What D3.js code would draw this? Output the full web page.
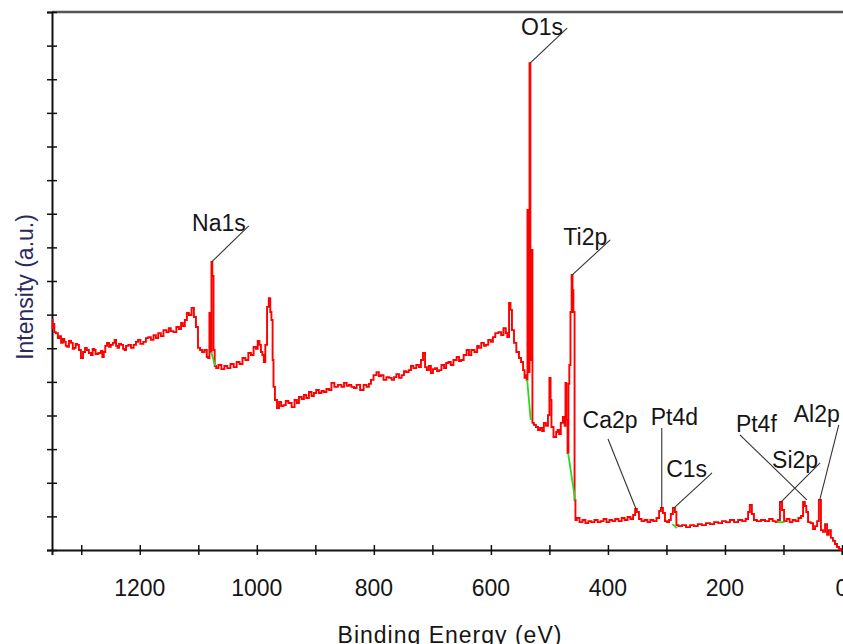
<!DOCTYPE html>
<html>
<head>
<meta charset="utf-8">
<script src="https://cdn.jsdelivr.net/npm/d3@7"></script>
<style>
  body { margin: 0; background: #fff; }
  svg text { font-family: Arial, "Liberation Sans", sans-serif; }
</style>
</head>
<body>
<svg id="chart"></svg>
<script>
const WIDTH = 843;
const HEIGHT = 644;

// survey spectrum, [binding energy (eV), intensity (a.u.)]
const spectrum = [
  [1350, 6.84], [1348, 6.60], [1347, 6.72], [1345, 6.48], [1342, 6.45], [1338, 6.30], [1336, 6.36],
  [1333, 6.16], [1330, 6.28], [1328, 6.19], [1325, 6.07], [1323, 6.04], [1319, 6.22], [1316, 6.16],
  [1313, 5.98], [1311, 6.01], [1308, 6.13], [1306, 6.10], [1302, 5.95], [1299, 5.71], [1295, 5.89],
  [1292, 6.01], [1289, 5.95], [1285, 5.86], [1282, 5.80], [1279, 5.98], [1277, 5.95], [1274, 5.83],
  [1268, 5.86], [1265, 5.92], [1263, 5.74], [1260, 5.89], [1258, 6.07], [1254, 6.16], [1251, 6.04],
  [1248, 6.10], [1244, 6.16], [1242, 6.25], [1239, 6.07], [1237, 6.01], [1234, 6.13], [1230, 6.10],
  [1227, 5.98], [1225, 5.95], [1222, 6.07], [1217, 6.10], [1213, 6.01], [1208, 6.10], [1205, 6.19],
  [1201, 6.25], [1197, 6.13], [1191, 6.19], [1188, 6.30], [1183, 6.33], [1179, 6.25], [1174, 6.39],
  [1171, 6.30], [1166, 6.45], [1162, 6.36], [1157, 6.54], [1152, 6.48], [1149, 6.60], [1145, 6.51],
  [1140, 6.48], [1135, 6.63], [1131, 6.57], [1128, 6.75], [1125, 6.66], [1121, 6.84], [1118, 7.05],
  [1114, 6.99], [1109, 7.20], [1106, 6.93], [1102, 6.63], [1099, 6.01], [1095, 5.95], [1092, 5.89],
  [1087, 5.95], [1084, 5.74], [1082, 5.71],
  // Na1s
  [1080, 7.05], [1078, 5.89], [1077, 8.57], [1075, 8.15], [1073, 5.95], [1071, 5.47],
  [1068, 5.41], [1063, 5.50], [1058, 5.38], [1053, 5.47], [1048, 5.41], [1042, 5.53], [1037, 5.44],
  [1032, 5.59], [1027, 5.53], [1022, 5.71], [1017, 5.65], [1012, 5.86], [1008, 5.80], [1003, 6.04],
  [1000, 5.98], [997, 6.22], [994, 6.10], [992, 5.89], [989, 5.80], [987, 5.59], [984, 6.10],
  [981, 7.23], [978, 7.49], [976, 7.08], [974, 6.84], [972, 5.65], [971, 4.85], [967, 4.46],
  [964, 4.22], [960, 4.40], [957, 4.28], [952, 4.31], [949, 4.43], [943, 4.37], [938, 4.25],
  [933, 4.46], [930, 4.37], [926, 4.55], [921, 4.49], [918, 4.61], [913, 4.52], [909, 4.70],
  [904, 4.58], [901, 4.67], [896, 4.76], [892, 4.67], [887, 4.73], [884, 4.70], [878, 4.79],
  [875, 4.76], [870, 4.97], [865, 4.85], [858, 4.91], [853, 4.85], [849, 4.97], [844, 4.88],
  [841, 4.91], [836, 4.85], [832, 4.82], [827, 4.91], [820, 4.76], [815, 4.91], [810, 4.85],
  [807, 4.94], [803, 5.06], [798, 5.20], [793, 5.29], [790, 5.17], [786, 5.20], [781, 5.06],
  [776, 5.14], [772, 5.12], [767, 5.06], [764, 5.14], [759, 5.23], [755, 5.12], [750, 5.20],
  [747, 5.32], [743, 5.29], [738, 5.35], [735, 5.47], [730, 5.41], [725, 5.50], [721, 5.44],
  [718, 5.65], [714, 5.86], [711, 5.44], [708, 5.35], [704, 5.47], [701, 5.26], [697, 5.38],
  [694, 5.41], [690, 5.32], [687, 5.35], [682, 5.50], [678, 5.41], [675, 5.56], [670, 5.59],
  [667, 5.50], [661, 5.65], [656, 5.74], [653, 5.62], [649, 5.65], [644, 5.80], [639, 5.95],
  [636, 5.80], [631, 5.95], [625, 5.89], [622, 6.07], [619, 6.01], [614, 6.16], [610, 6.07],
  [607, 6.10], [602, 6.25], [598, 6.19], [595, 6.33], [590, 6.45], [584, 6.48], [581, 6.39],
  [576, 6.60], [573, 6.45], [571, 6.33], [567, 7.35], [566, 7.14], [562, 6.54], [559, 6.16],
  [554, 5.89], [550, 5.71], [547, 5.59], [543, 5.35], [542, 5.12], [540, 5.20], [538, 5.06],
  // O1s
  [537, 10.11], [535, 5.29], [533, 14.48], [532, 5.65], [530, 8.92], [528, 3.78],
  [525, 3.72], [521, 3.66], [518, 3.57], [514, 3.63], [511, 3.54], [508, 3.78], [504, 3.69],
  [501, 4.01], [499, 5.12], [497, 4.46], [496, 3.66], [490, 3.36], [487, 3.51], [485, 3.57],
  [482, 3.45], [479, 3.78], [475, 3.96], [473, 3.69], [472, 4.97], [470, 3.87], [468, 2.88],
  // Ti2p
  [467, 4.94], [465, 5.50], [463, 7.08], [461, 8.18], [460, 7.73], [458, 7.08], [456, 1.49],
  [455, 0.89], [451, 0.95], [446, 0.83], [441, 0.89], [436, 0.80], [431, 0.86], [426, 0.83],
  [420, 0.89], [415, 0.83], [410, 0.86], [405, 0.92], [400, 0.83], [395, 0.89], [390, 0.86],
  [385, 0.92], [379, 0.86], [374, 0.95], [369, 0.89], [364, 0.98], [359, 0.92], [355, 1.04],
  [352, 1.22], [349, 1.13], [345, 0.92], [340, 0.86], [335, 0.89], [330, 0.83], [325, 0.89],
  [320, 0.86], [314, 0.95], [311, 1.16], [308, 1.25], [304, 1.10], [301, 0.86], [297, 0.83],
  [294, 0.89], [291, 1.07], [287, 1.25], [284, 1.13], [282, 0.74], [277, 0.71], [270, 0.74],
  [263, 0.68], [256, 0.74], [250, 0.71], [243, 0.77], [236, 0.74], [229, 0.80], [222, 0.77],
  [215, 0.83], [208, 0.80], [202, 0.86], [195, 0.83], [188, 0.89], [181, 0.83], [174, 0.89],
  [167, 0.86], [162, 0.92], [159, 1.13], [156, 1.34], [152, 1.07], [149, 0.89], [142, 0.86],
  [135, 0.89], [128, 0.86], [121, 0.92], [116, 0.86], [111, 0.83], [108, 0.89], [104, 1.43],
  [101, 1.19], [97, 0.86], [92, 0.92], [87, 0.83], [82, 0.89], [77, 0.86], [72, 0.95],
  [68, 1.01], [65, 1.43], [62, 1.31], [60, 1.13], [56, 0.83], [51, 0.80], [48, 0.62],
  [44, 0.71], [41, 0.86], [38, 1.49], [34, 0.59], [31, 0.54], [27, 0.77], [24, 0.45],
  [21, 0.59], [17, 0.36], [14, 0.27], [10, 0.18], [7, 0.09], [3, 0.03], [0, 0]
];

// short background segments drawn in green under the peaks
const backgrounds = [
  [[1078, 5.89], [1071, 5.47]],
  [[538, 5.06], [532, 3.87]],
  [[468, 2.88], [456, 1.49]],
  [[290, 0.77], [282, 0.65]],
  [[111, 0.83], [98, 0.83]]
];

const peakNames = ['Na1s', 'O1s', 'Ti2p', 'Ca2p', 'Pt4d', 'C1s', 'Pt4f', 'Si2p', 'Al2p'];
const peakEnergies = [1077, 533, 461, 352, 308, 287, 60, 104, 38];
const peakHeights = [8.57, 14.48, 8.18, 1.22, 1.25, 1.25, 1.49, 1.43, 1.49];

const xTickValues = [0, 100, 200, 300, 400, 500, 600, 700, 800, 900, 1000, 1100, 1200, 1300];
const xTickLabels = [0, 200, 400, 600, 800, 1000, 1200];

// leader line offset from the peak top and text placement
const labelLayout = {
  Na1s: { lead: [37, -36], anchor: 'end', dx: -3, dy: 5 },
  O1s:  { lead: [37, -35], anchor: 'end', dx: -4, dy: 7 },
  Ti2p: { lead: [38, -35], anchor: 'end', dx: -3, dy: 5 },
  Ca2p: { lead: [-28, -70], anchor: 'middle', dx: 2, dy: -11 },
  Pt4d: { lead: [0, -80], anchor: 'start', dx: -11, dy: -3 },
  C1s:  { lead: [38, -35], anchor: 'end', dx: -5, dy: 4 },
  Pt4f: { lead: [-67, -65], anchor: 'start', dx: -4, dy: -3 },
  Si2p: { lead: [39, -39], anchor: 'end', dx: -2, dy: 5 },
  Al2p: { lead: [19, -75], anchor: 'end', dx: 1, dy: -3 }
};

const margin = { left: 52, top: 12, right: 1, bottom: 94 };

const svg = d3.select('#chart')
  .attr('width', WIDTH)
  .attr('height', HEIGHT);

const x = d3.scaleLinear()
  .domain([1350, 0])
  .range([margin.left, WIDTH - margin.right]);

const y = d3.scaleLinear()
  .domain([0, 16])
  .range([HEIGHT - margin.bottom, margin.top]);

// top frame line
svg.append('line')
  .attr('x1', margin.left).attr('x2', WIDTH)
  .attr('y1', margin.top).attr('y2', margin.top)
  .attr('stroke', '#555').attr('stroke-width', 2.5);

//    axes    ////////////////////////////////////////////////////////////

const xAxis = svg.append('g')
  .attr('transform', `translate(0,${y(0)})`)
  .call(d3.axisBottom(x).tickValues(xTickValues).tickSize(5).tickFormat(''));
xAxis.selectAll('.tick line').attr('y1', -5).attr('stroke', '#111').attr('stroke-width', 1.5);
xAxis.select('.domain').attr('stroke', '#111').attr('stroke-width', 2);

svg.append('g')
  .selectAll('text')
  .data(xTickLabels)
  .enter().append('text')
  .attr('x', d => x(d))
  .attr('y', 596)
  .attr('text-anchor', 'middle')
  .attr('font-size', 23)
  .attr('fill', '#151515')
  .text(d => d);

const yAxis = svg.append('g')
  .attr('transform', `translate(${margin.left},0)`)
  .call(d3.axisLeft(y).ticks(16).tickSize(5).tickFormat(''));
yAxis.selectAll('.tick line').attr('x1', 5).attr('stroke', '#111').attr('stroke-width', 1.5);
yAxis.select('.domain').attr('stroke', '#111').attr('stroke-width', 2);

svg.append('text')
  .attr('x', 450)
  .attr('y', 643)
  .attr('text-anchor', 'middle')
  .attr('font-size', 23)
  .attr('letter-spacing', 1)
  .attr('fill', '#151515')
  .text('Binding Energy (eV)');

svg.append('text')
  .attr('transform', 'translate(33,287) rotate(-90)')
  .attr('text-anchor', 'middle')
  .attr('font-size', 23)
  .attr('fill', '#2a2a5e')
  .text('Intensity (a.u.)');

//    spectrum    ////////////////////////////////////////////////////////

const line = d3.line()
  .x(d => x(d[0]))
  .y(d => y(d[1]))
  .curve(d3.curveStep);

svg.append('path')
  .datum(spectrum)
  .attr('fill', 'none')
  .attr('stroke', '#ff0000')
  .attr('stroke-width', 1.9)
  .attr('d', line);

svg.selectAll('.bg')
  .data(backgrounds)
  .enter().append('path')
  .attr('class', 'bg')
  .attr('fill', 'none')
  .attr('stroke', '#22dd22')
  .attr('stroke-width', 1.8)
  .attr('d', d3.line().x(d => x(d[0])).y(d => y(d[1])));

//    peak labels    /////////////////////////////////////////////////////

const peaks = peakNames.map((name, i) => ({
  name,
  px: x(peakEnergies[i]),
  py: y(peakHeights[i]),
  lay: labelLayout[name]
}));

const label = svg.selectAll('.peak')
  .data(peaks)
  .enter().append('g')
  .attr('class', 'peak');

label.append('line')
  .attr('x1', d => d.px)
  .attr('y1', d => d.py)
  .attr('x2', d => d.px + d.lay.lead[0])
  .attr('y2', d => d.py + d.lay.lead[1])
  .attr('stroke', '#333')
  .attr('stroke-width', 1.1);

label.append('text')
  .attr('x', d => d.px + d.lay.lead[0] + d.lay.dx)
  .attr('y', d => d.py + d.lay.lead[1] + d.lay.dy)
  .attr('text-anchor', d => d.lay.anchor)
  .attr('font-size', 23)
  .attr('fill', '#151515')
  .text(d => d.name);
</script>
</body>
</html>
